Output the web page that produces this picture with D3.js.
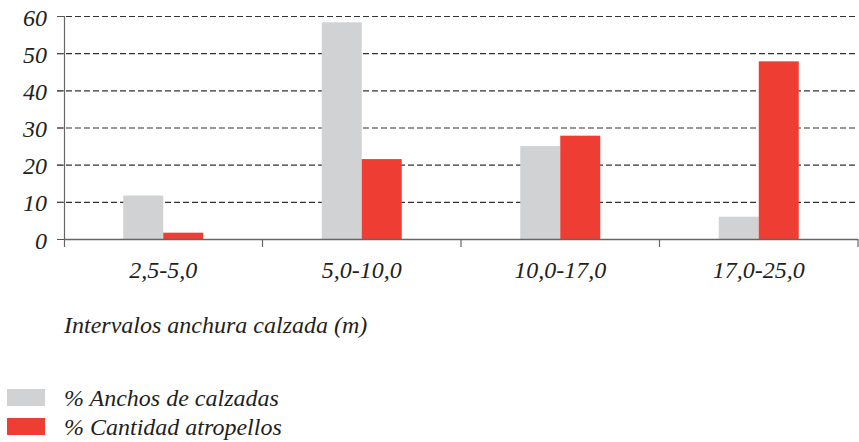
<!DOCTYPE html>
<html><head><meta charset="utf-8">
<script src="https://cdn.jsdelivr.net/npm/d3@7"></script>
<style>body{margin:0;background:#fff}svg{display:block}</style>
</head><body><svg id="c" width="859" height="442"></svg>
<script>
const categories = ["2,5-5,0","5,0-10,0","10,0-17,0","17,0-25,0"];
const anchos = [11.7, 58.3, 25.0, 6.0];
const atropellos = [1.7, 21.5, 27.8, 47.8];
const seriesNames = ["% Anchos de calzadas","% Cantidad atropellos"];
const colors = ["#d1d2d4","#ee3e33"];
const yTicks = [0,10,20,30,40,50,60];
const xTitle = "Intervalos anchura calzada (m)";

(function(){
const FONT = '"Liberation Serif"';
const styleText = sel => sel.style("font-family", FONT).style("font-style","italic").style("fill","#231f20");
const svg = d3.select("#c");
const mLeft = 64, mRight = 858, mTop = 16, mBottom = 239;
const x = d3.scaleBand().domain(categories).range([mLeft, mRight]).padding(0);
const y = d3.scaleLinear().domain([0,60]).range([mBottom, mTop]);
const barW = 40;

// gridlines
svg.append("g").selectAll("line").data(yTicks.filter(d=>d>0)).join("line")
  .attr("x1", 57).attr("x2", mRight).attr("y1", d=>y(d)+0.5).attr("y2", d=>y(d)+0.5)
  .attr("stroke", "#333").attr("stroke-width", 1.1).attr("stroke-dasharray", "6,3");

// bars
const series = [anchos, atropellos];
series.forEach((vals, si) => {
  svg.append("g").selectAll("rect").data(vals).join("rect")
    .attr("x", (d,i) => x(categories[i]) + x.bandwidth()/2 + (si-1)*barW)
    .attr("y", d => y(d))
    .attr("width", barW)
    .attr("height", d => y(0) - y(d))
    .attr("fill", colors[si]);
});

// y axis
const yAxis = d3.axisLeft(y).tickValues(yTicks).tickSize(7).tickPadding(10).tickFormat(d3.format("d"));
const yg = svg.append("g").attr("transform", `translate(${mLeft},0)`).call(yAxis);
yg.attr("font-family", null).attr("font-size", null);
yg.select(".domain").attr("d", `M0.5,${y(60)}V${mBottom+8}`).attr("stroke","#666").attr("stroke-width",1.2);
yg.selectAll(".tick line").attr("stroke","#555");
yg.selectAll(".tick text").attr("dy", null).attr("y", 9).style("font-size","24px").call(styleText);

// x axis
const xg = svg.append("g").attr("transform", `translate(0,${mBottom})`);
xg.append("line").attr("x1", mLeft).attr("x2", mRight).attr("y1", 0.5).attr("y2", 0.5).attr("stroke","#666").attr("stroke-width",1.5);
const bounds = categories.map(c => x(c) + x.bandwidth());
xg.selectAll("line.tk").data(bounds).join("line").attr("class","tk")
  .attr("x1", d=>d).attr("x2", d=>d).attr("y1", 0).attr("y2", 8).attr("stroke","#666").attr("stroke-width",1.2);
xg.selectAll("text").data(categories).join("text")
  .attr("x", d => x(d) + x.bandwidth()/2).attr("y", 39)
  .attr("text-anchor","middle").style("font-size","24px").call(styleText)
  .text(d=>d);

svg.append("text").attr("x", 64).attr("y", 333).style("font-size","24px").call(styleText).text(xTitle);

// legend
const lg = svg.append("g");
seriesNames.forEach((n,i) => {
  lg.append("rect").attr("x", 7).attr("y", 389 + i*29).attr("width", 38).attr("height", 17).attr("fill", colors[i]);
  lg.append("text").attr("x", 64).attr("y", 406 + i*28.5).style("font-size","24px").call(styleText).text(n);
});
})();
</script></body></html>
